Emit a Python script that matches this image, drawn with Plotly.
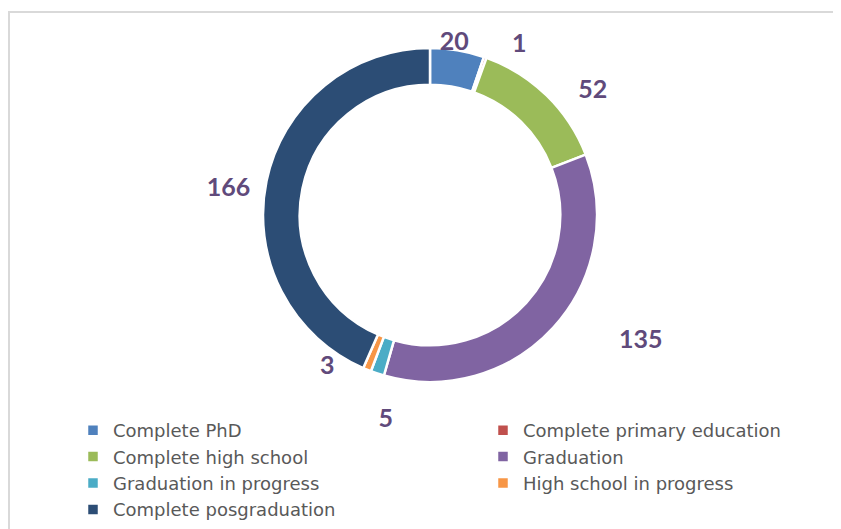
import plotly.graph_objects as go

# -------------------------------------------------
# Education level of respondents
# -------------------------------------------------

levels = [
    "Complete PhD",
    "Complete primary education",
    "Complete high school",
    "Graduation",
    "Graduation in progress",
    "High school in progress",
    "Complete posgraduation",
]
counts = [20, 1, 52, 135, 5, 3, 166]
colors = ["#4F81BD", "#C0504D", "#9BBB59", "#8064A2", "#4BACC6", "#F79646", "#2C4D75"]

W, H = 841, 529
OFF = 8  # page body margin in the browser


def dom(cx, cy, r):
    # pie domain (paper coords) from a centre / radius in page pixels
    return dict(x=[(cx - r - OFF) / W, (cx + r - OFF) / W],
                y=[1 - (cy + r - OFF) / H, 1 - (cy - r - OFF) / H])


def only(*names):
    # textposition list that labels just the given slices
    return ["outside" if lv in names else "none" for lv in levels]


# value labels are split over a few transparent pie copies so that
# plotly does not stack them all on top of each other (Excel "best fit" look)
label_layers = [
    (only("Complete posgraduation"), dom(434, 223, 180)),
    (only("Complete primary education", "Complete high school"), dom(445, 225, 180)),
    (only("Graduation"), dom(475, 206, 185)),
    (only("Graduation in progress"), dom(462, 218, 195)),
    (only("Complete PhD"), dom(405, 219, 167)),
    (only("High school in progress"), dom(405, 196, 167)),
]

label_font = dict(family="Lato", size=25, color="#604A7B", weight="bold")
clear = ["rgba(0,0,0,0)"] * len(levels)

fig = go.Figure()

# visible ring
fig.add_trace(go.Pie(
    labels=levels,
    values=counts,
    hole=0.78,
    sort=False,
    direction="clockwise",
    rotation=0,
    marker=dict(colors=colors, line=dict(color="white", width=2.5)),
    textposition="none",
    domain=dom(430, 215, 167),
    hoverinfo="label+value",
))

for positions, d in label_layers:
    fig.add_trace(go.Pie(
        labels=levels,
        values=counts,
        hole=0.9,
        sort=False,
        direction="clockwise",
        rotation=0,
        marker=dict(colors=clear, line=dict(width=0)),
        texttemplate="%{value}",
        textposition=positions,
        outsidetextfont=label_font,
        domain=d,
        showlegend=False,
        hoverinfo="skip",
    ))

fig.update_layout(
    width=W,
    height=H,
    margin=dict(l=0, r=0, t=0, b=0, autoexpand=False),
    paper_bgcolor="white",
    font=dict(family="DejaVu Sans", color="#595959"),
    legend=dict(
        orientation="h",
        x=(73 - OFF) / W,
        y=1 - (412 - OFF) / H,
        xanchor="left",
        yanchor="top",
        entrywidth=365,
        entrywidthmode="pixels",
        bgcolor="rgba(0,0,0,0)",
        font=dict(family="DejaVu Sans", size=18, color="#595959"),
        tracegroupgap=0,
        itemclick=False,
    ),
    shapes=[
        dict(
            type="rect", xref="paper", yref="paper",
            x0=1 / W, x1=1.05, y0=-0.05, y1=1 - 4 / H,
            line=dict(color="#D9D9D9", width=2),
        )
    ],
)

fig.write_html("out.html")
